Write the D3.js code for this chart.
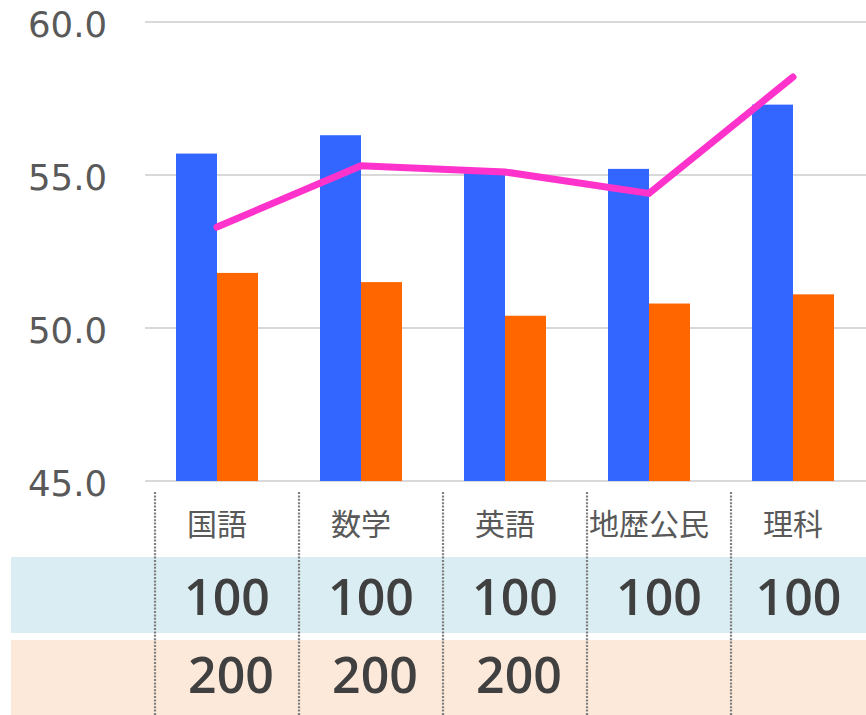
<html>
<head>
<script src="https://cdn.jsdelivr.net/npm/d3@7"></script>
<style>
    html, body {
        width: 100%;
        height: 100%;
        margin: 0;
        padding: 0;
        background: #fff;
    }
</style>
</head>
<body>
<script>
    var width = 866;
    var height = 715;

    // data
    var subjects = ["国語", "数学", "英語", "地歴公民", "理科"];
    var blueValues = [55.7, 56.3, 55.1, 55.2, 57.3];
    var orangeValues = [51.8, 51.5, 50.4, 50.8, 51.1];
    var lineValues = [53.3, 55.3, 55.1, 54.4, 58.2];
    var yTicks = [45, 50, 55, 60];
    var row1 = ["100", "100", "100", "100", "100"];
    var row2 = ["200", "200", "200", "", ""];

    var svg = d3.select("body").append("svg")
        .attr("width", width)
        .attr("height", height);

    var x = d3.scaleBand().domain(subjects).range([145, 865]);
    var y = d3.scaleLinear().domain([45, 60]).range([481, 22]);
    var barW = 41;

    // table row backgrounds
    svg.append("rect").attr("x", 11).attr("y", 557).attr("width", width - 11).attr("height", 76).attr("fill", "#daedf3");
    svg.append("rect").attr("x", 11).attr("y", 640).attr("width", width - 11).attr("height", 75).attr("fill", "#fde9da");

    // gridlines
    svg.selectAll(".grid").data(yTicks).enter().append("line")
        .attr("x1", 145).attr("x2", width)
        .attr("y1", function (d) { return y(d); })
        .attr("y2", function (d) { return y(d); })
        .attr("stroke", "#d9d9d9")
        .attr("stroke-width", 2);

    svg.selectAll(".ylab").data(yTicks).enter().append("text")
        .attr("x", 107)
        .attr("y", function (d) { return y(d) + 14.5; })
        .attr("text-anchor", "end")
        .attr("font-family", "DejaVu Sans")
        .attr("font-size", 35.5)
        .attr("fill", "#595959")
        .text(function (d) { return d.toFixed(1); });

    // bars
    svg.selectAll(".blue").data(blueValues).enter().append("rect")
        .attr("x", function (d, i) { return x(subjects[i]) + x.bandwidth() / 2 - barW; })
        .attr("y", function (d) { return y(d); })
        .attr("width", barW)
        .attr("height", function (d) { return y(45) - y(d); })
        .attr("fill", "#3366ff");

    svg.selectAll(".orange").data(orangeValues).enter().append("rect")
        .attr("x", function (d, i) { return x(subjects[i]) + x.bandwidth() / 2; })
        .attr("y", function (d) { return y(d); })
        .attr("width", barW)
        .attr("height", function (d) { return y(45) - y(d); })
        .attr("fill", "#ff6600");

    // line
    var line = d3.line()
        .x(function (d, i) { return x(subjects[i]) + x.bandwidth() / 2; })
        .y(function (d) { return y(d); });

    svg.append("path")
        .datum(lineValues)
        .attr("d", line)
        .attr("fill", "none")
        .attr("stroke", "#ff33cc")
        .attr("stroke-width", 7)
        .attr("stroke-linecap", "round")
        .attr("stroke-linejoin", "miter");

    // category labels
    svg.selectAll(".cat").data(subjects).enter().append("text")
        .attr("x", function (d) { return x(d) + x.bandwidth() / 2; })
        .attr("y", 522)
        .attr("text-anchor", "middle")
        .attr("dominant-baseline", "central")
        .attr("font-family", "Noto Sans CJK JP")
        .attr("font-size", 30)
        .attr("fill", "#595959")
        .text(function (d) { return d; });

    // table dividers
    var divX = subjects.map(function (d) { return x(d) + 10; });
    svg.selectAll(".div").data(divX).enter().append("line")
        .attr("x1", function (d) { return d; })
        .attr("x2", function (d) { return d; })
        .attr("y1", 492).attr("y2", height)
        .attr("stroke", "#7f7f7f")
        .attr("stroke-width", 2.2)
        .attr("stroke-dasharray", "2,1.4");

    // cell text, centred between dividers
    function cellX(i) {
        var right = i < divX.length - 1 ? divX[i + 1] : width;
        return (divX[i] + right) / 2;
    }

    svg.selectAll(".r1").data(row1).enter().append("text")
        .attr("x", function (d, i) { return cellX(i); })
        .attr("y", 615)
        .attr("text-anchor", "middle")
        .attr("font-family", "Open Sans")
        .attr("font-weight", 600)
        .attr("font-size", 50)
        .attr("fill", "#404040")
        .text(function (d) { return d; });

    svg.selectAll(".r2").data(row2).enter().append("text")
        .attr("x", function (d, i) { return cellX(i) + 4; })
        .attr("y", 693)
        .attr("text-anchor", "middle")
        .attr("font-family", "Open Sans")
        .attr("font-weight", 600)
        .attr("font-size", 50)
        .attr("fill", "#404040")
        .text(function (d) { return d; });
</script>
</body>
</html>
